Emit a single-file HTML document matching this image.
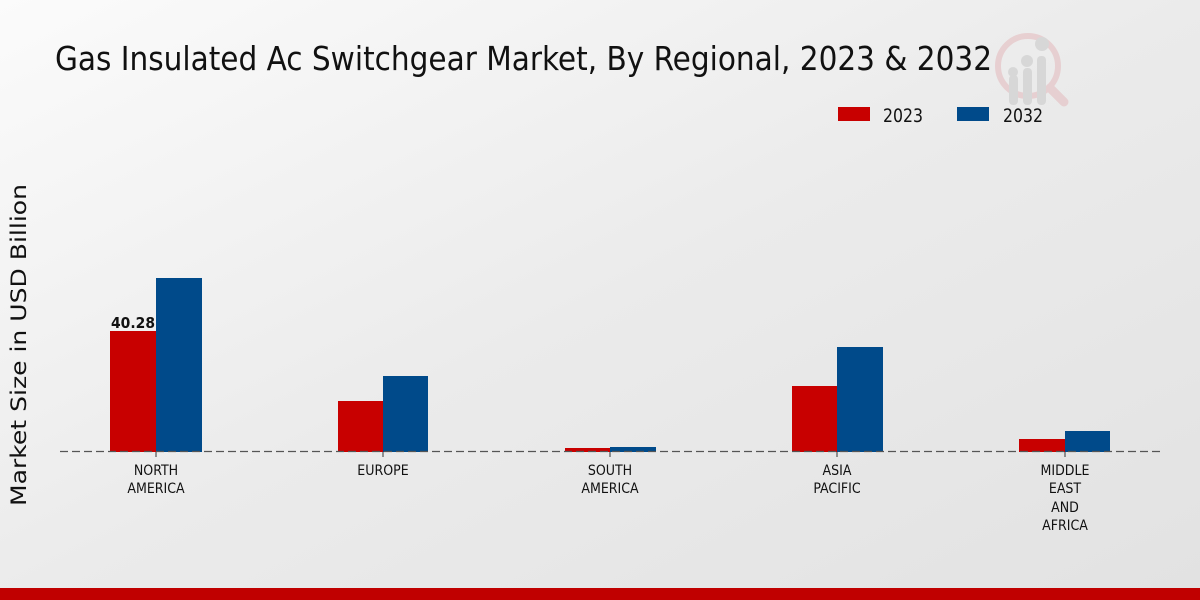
<!DOCTYPE html>
<html><head><meta charset="utf-8"><style>
html,body{margin:0;padding:0;width:1200px;height:600px;overflow:hidden}
svg{display:block}
</style></head><body>
<svg width="1200" height="600" viewBox="0 0 1200 600" xmlns="http://www.w3.org/2000/svg">
<defs>
<linearGradient id="bg" x1="0" y1="0" x2="1" y2="1">
<stop offset="0" stop-color="#fbfbfb"/>
<stop offset="0.5" stop-color="#ebebeb"/>
<stop offset="1" stop-color="#e2e2e2"/>
</linearGradient>
</defs>
<rect width="1200" height="600" fill="url(#bg)"/>
<rect x="0" y="588" width="1200" height="12" fill="#c00000"/>

<!-- logo -->
<g opacity="0.8">
<circle cx="1028" cy="66" r="30" fill="none" stroke="#e6c9cb" stroke-width="6"/>
<line x1="1050" y1="88" x2="1064" y2="102" stroke="#e6c9cb" stroke-width="9" stroke-linecap="round"/>
<rect x="1009" y="75" width="9" height="30" rx="4" fill="#d3d3d3"/>
<rect x="1023" y="68" width="9" height="37" rx="4" fill="#d3d3d3"/>
<rect x="1037" y="56" width="9" height="49" rx="4" fill="#d3d3d3"/>
<circle cx="1013" cy="72" r="5" fill="#d3d3d3"/>
<circle cx="1027" cy="61" r="6" fill="#d3d3d3"/>
<circle cx="1042" cy="44" r="7" fill="#d3d3d3"/>
</g>

<text x="55" y="70" font-family="'DejaVu Sans Condensed','DejaVu Sans',sans-serif" font-stretch="condensed" font-size="33" fill="#111" textLength="937" lengthAdjust="spacingAndGlyphs">Gas Insulated Ac Switchgear Market, By Regional, 2023 &amp; 2032</text>

<!-- legend -->
<rect x="838" y="107" width="32" height="14" fill="#c80000"/>
<text x="883" y="122" font-family="'DejaVu Sans Condensed','DejaVu Sans',sans-serif" font-size="19" fill="#111" textLength="40" lengthAdjust="spacingAndGlyphs">2023</text>
<rect x="957" y="107" width="32" height="14" fill="#004a8a"/>
<text x="1003" y="122" font-family="'DejaVu Sans Condensed','DejaVu Sans',sans-serif" font-size="19" fill="#111" textLength="40" lengthAdjust="spacingAndGlyphs">2032</text>

<!-- y label -->
<text transform="translate(26,345) rotate(-90)" text-anchor="middle" font-family="'DejaVu Sans',sans-serif" font-size="21" fill="#111" textLength="322" lengthAdjust="spacingAndGlyphs">Market Size in USD Billion</text>

<!-- bars -->
<g>
<rect x="110" y="331" width="46" height="121" fill="#c80000"/>
<rect x="156" y="278" width="46" height="174" fill="#004a8a"/>
<rect x="338" y="401" width="45" height="51" fill="#c80000"/>
<rect x="383" y="376" width="45" height="76" fill="#004a8a"/>
<rect x="565" y="448" width="45" height="4" fill="#c80000"/>
<rect x="610" y="447" width="46" height="5" fill="#004a8a"/>
<rect x="792" y="386" width="45" height="66" fill="#c80000"/>
<rect x="837" y="347" width="46" height="105" fill="#004a8a"/>
<rect x="1019" y="439" width="46" height="13" fill="#c80000"/>
<rect x="1065" y="431" width="45" height="21" fill="#004a8a"/>
</g>

<line x1="60" y1="451.5" x2="1160" y2="451.5" stroke="#555" stroke-width="1.3" stroke-dasharray="8,4"/>
<g stroke="#333" stroke-width="1">
<line x1="156" y1="452" x2="156" y2="457"/>
<line x1="383" y1="452" x2="383" y2="457"/>
<line x1="610" y1="452" x2="610" y2="457"/>
<line x1="837" y1="452" x2="837" y2="457"/>
<line x1="1065" y1="452" x2="1065" y2="457"/>
</g>

<text x="111" y="328" font-family="'DejaVu Sans',sans-serif" font-weight="bold" font-size="15" fill="#111" textLength="44" lengthAdjust="spacingAndGlyphs">40.28</text>

<g font-family="'DejaVu Sans Condensed','DejaVu Sans',sans-serif" font-size="14" fill="#111" text-anchor="middle">
<text x="156" y="475">NORTH</text>
<text x="156" y="493">AMERICA</text>
<text x="383" y="475">EUROPE</text>
<text x="610" y="475">SOUTH</text>
<text x="610" y="493">AMERICA</text>
<text x="837" y="475">ASIA</text>
<text x="837" y="493">PACIFIC</text>
<text x="1065" y="475">MIDDLE</text>
<text x="1065" y="493">EAST</text>
<text x="1065" y="512">AND</text>
<text x="1065" y="530">AFRICA</text>
</g>
</svg>
</body></html>
